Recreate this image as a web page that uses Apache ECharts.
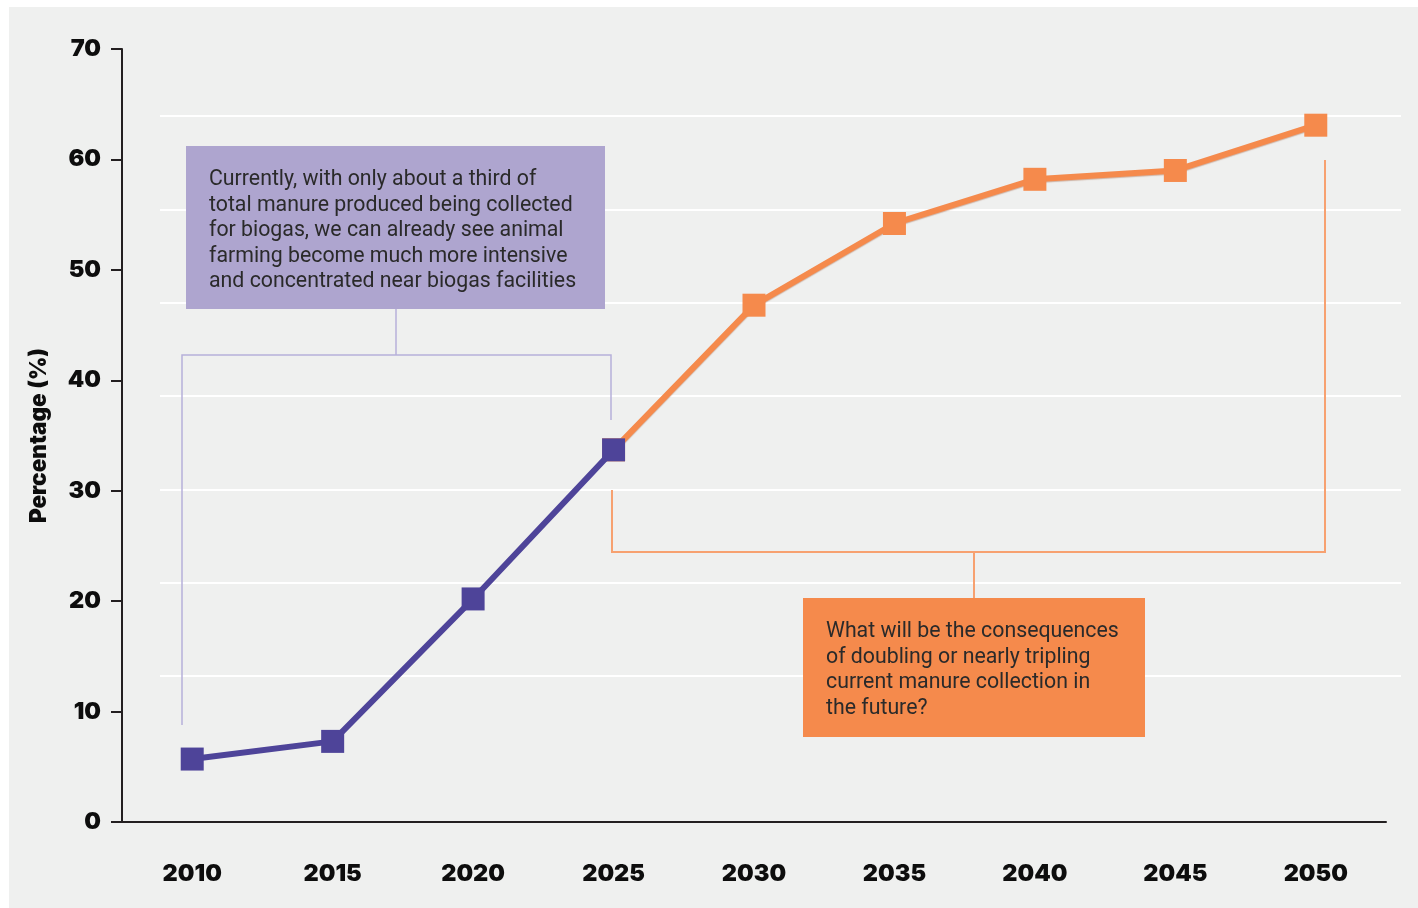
<!DOCTYPE html>
<html>
<head>
<meta charset="utf-8">
<script src="https://cdn.jsdelivr.net/npm/echarts@6/dist/echarts.min.js"></script>
<style>
  html, body { margin: 0; padding: 0; background: #ffffff; }
  #chart { width: 1418px; height: 908px; }
</style>
</head>
<body>
<div id="chart"></div>
<script>
// years on the x axis
var years = ['2010', '2015', '2020', '2025', '2030', '2035', '2040', '2045', '2050'];
// share of manure collected for biogas (%), observed part and projection
var current = [5.7, 7.3, 20.2, 33.7, null, null, null, null, null];
var projected = [null, null, null, 33.7, 46.8, 54.2, 58.2, 59.0, 63.1];
// y tick values
var yTicks = [0, 10, 20, 30, 40, 50, 60, 70];

var purple = '#4e4499';
var orange = '#f58a4c';

var noteLeft = 'Currently, with only about a third of\ntotal manure produced being collected\nfor biogas, we can already see animal\nfarming become much more intensive\nand concentrated near biogas facilities';
var noteRight = 'What will be the consequences\nof doubling or nearly tripling\ncurrent manure collection in\nthe future?';

var chart = echarts.init(document.getElementById('chart'));

var boldFont = {
    fontFamily: 'Inter',
    fontWeight: 900,
    fontSize: 23.5,
    color: '#0d0d0d'
};

var option = {
    backgroundColor: '#ffffff',
    animation: false,
    grid: [
        // decorative white background rules
        {left: 160, right: 17, top: 116, height: 560},
        // main plot
        {left: 122, right: 32, top: 49, bottom: 86}
    ],
    xAxis: [
        {gridIndex: 0, type: 'value', show: false},
        {
            gridIndex: 1,
            type: 'category',
            data: years,
            boundaryGap: true,
            axisLine: {lineStyle: {color: '#231f20', width: 2}},
            axisTick: {alignWithLabel: true, length: 13, lineStyle: {color: '#231f20', width: 2}},
            axisLabel: Object.assign({margin: 40}, boldFont),
            splitLine: {show: false}
        }
    ],
    yAxis: [
        {
            gridIndex: 0,
            type: 'value',
            min: 0, max: 6, interval: 1,
            axisLine: {show: false},
            axisTick: {show: false},
            axisLabel: {show: false},
            splitLine: {lineStyle: {color: '#ffffff', width: 2}}
        },
        {
            gridIndex: 1,
            type: 'value',
            min: yTicks[0],
            max: yTicks[yTicks.length - 1],
            interval: 10,
            name: 'Percentage (%)',
            nameLocation: 'middle',
            nameGap: 71,
            nameTextStyle: {fontFamily: 'Inter', fontWeight: 900, fontSize: 22.5, color: '#0d0d0d'},
            axisLine: {show: true, lineStyle: {color: '#231f20', width: 2}},
            axisTick: {show: true, length: 11, lineStyle: {color: '#231f20', width: 2}},
            axisLabel: Object.assign({margin: 21}, boldFont),
            splitLine: {show: false}
        }
    ],
    graphic: [
        {
            type: 'rect', z: -10, silent: true,
            shape: {x: 9, y: 7, width: 1418, height: 908},
            style: {fill: '#eff0ef'}
        },
        // left bracket
        {
            type: 'polyline', z: 5, silent: true,
            shape: {points: [[182, 725], [182, 355], [611, 355], [611, 420]]},
            style: {stroke: '#b7b0da', lineWidth: 1.5, fill: null}
        },
        {
            type: 'line', z: 5, silent: true,
            shape: {x1: 396, y1: 309, x2: 396, y2: 355},
            style: {stroke: '#b7b0da', lineWidth: 1.5}
        },
        {
            type: 'rect', z: 6, silent: true,
            shape: {x: 186, y: 146, width: 419, height: 163},
            style: {fill: '#aea5cf'}
        },
        {
            type: 'text', z: 7, silent: true,
            left: 209, top: 167,
            style: {
                text: noteLeft,
                font: '21.3px Roboto',
                fill: '#2a2a2a',
                lineHeight: 25.5
            }
        },
        // right bracket
        {
            type: 'polyline', z: 5, silent: true,
            shape: {points: [[612, 490], [612, 552], [1325, 552], [1325, 160]]},
            style: {stroke: '#f7a170', lineWidth: 2, fill: null}
        },
        {
            type: 'line', z: 5, silent: true,
            shape: {x1: 974, y1: 552, x2: 974, y2: 598},
            style: {stroke: '#f7a170', lineWidth: 2}
        },
        {
            type: 'rect', z: 6, silent: true,
            shape: {x: 803, y: 598, width: 342, height: 139},
            style: {fill: orange}
        },
        {
            type: 'text', z: 7, silent: true,
            left: 826, top: 619,
            style: {
                text: noteRight,
                font: '21.3px Roboto',
                fill: '#2a2a2a',
                lineHeight: 25.5
            }
        }
    ],
    series: [
        {
            name: 'projected',
            type: 'line',
            xAxisIndex: 1, yAxisIndex: 1,
            data: projected,
            z: 3,
            symbol: 'rect',
            symbolSize: 23,
            lineStyle: {color: orange, width: 6, shadowColor: 'rgba(150,70,30,0.35)', shadowBlur: 1, shadowOffsetY: 1},
            itemStyle: {color: orange}
        },
        {
            name: 'current',
            type: 'line',
            xAxisIndex: 1, yAxisIndex: 1,
            data: current,
            z: 4,
            symbol: 'rect',
            symbolSize: 23,
            lineStyle: {color: purple, width: 6},
            itemStyle: {color: purple}
        }
    ]
};

chart.setOption(option);
</script>
</body>
</html>
